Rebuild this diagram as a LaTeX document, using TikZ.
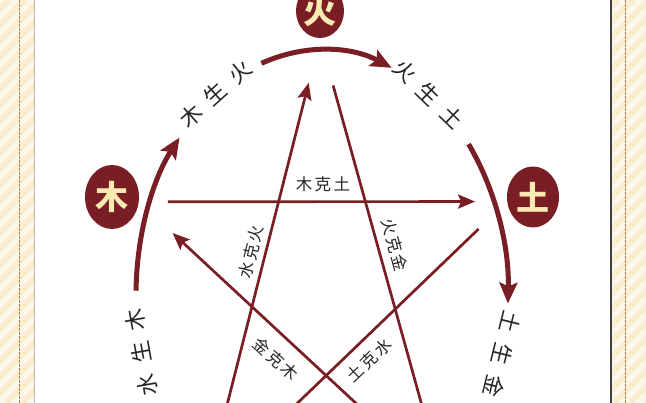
\documentclass[tikz,border=0pt]{standalone}
\usepackage{fontspec}
\setmainfont{Noto Sans CJK SC}
\usetikzlibrary{arrows.meta,shapes.geometric}
\definecolor{maroon}{RGB}{122,30,38}
\definecolor{pale}{RGB}{249,234,178}
\definecolor{ink}{RGB}{40,36,36}
\definecolor{cream}{RGB}{252,247,236}
\definecolor{stripe}{RGB}{250,237,204}
\definecolor{seam}{RGB}{170,128,78}
\newcommand\spaced[4]{#2\hspace{#1}#3\hspace{#1}#4}

\begin{document}
\begin{tikzpicture}[x=1pt, y=1pt,
        elem/.style={ellipse, fill=maroon, inner sep=0pt, text=pale,
            font=\fontsize{33}{33}\selectfont\bfseries},
        ke/.style={draw=maroon, line width=2.7pt, -{Stealth[length=17pt,width=14pt,inset=3pt]}},
        sheng/.style={draw=maroon, line width=5pt, -{Stealth[length=21pt,width=18pt,inset=4pt]}},
        kelabel/.style={text=ink, font=\fontsize{16.5}{16.5}\selectfont},
        shlabel/.style={text=ink, font=\fontsize{22}{22}\selectfont}]
    \useasboundingbox (0,0) rectangle (646,403);
    \clip (0,0) rectangle (646,403);

    % paper with striped margins
    \fill[cream] (0,0) rectangle (646,403);
    \begin{scope}
        \clip (0,0) rectangle (34,403) (611,0) rectangle (646,403);
        \foreach \s in {-410,-394,...,650} {
                \draw[stripe, line width=6pt] (\s,0) -- ++(403,403);
            }
    \end{scope}
    \fill[white] (34,0) rectangle (611,403);
    \draw[gray!55, line width=0.6pt] (34,0) -- (34,403);
    \draw[black!75, line width=1.2pt] (611,0) -- (611,403);
    \foreach \x in {19,625} {
            \draw[seam, line width=1pt, dash pattern=on 2.5pt off 1.5pt] (\x,0) -- (\x,403);
        }

    % elements
    \node[elem, minimum width=48pt, minimum height=54pt] (huo) at (320,392) {火};
    \node[elem, minimum width=54pt, minimum height=64pt] (mu) at (112,206) {木};
    \node[elem, minimum width=52pt, minimum height=61pt] (tu) at (533,206) {土};
    \coordinate (shui) at (205,-89);
    \coordinate (jin) at (444,-82);
    \coordinate (ring) at (322,108);

    % generating cycle
    \draw[sheng] (ring) ++(179:186 and 245) arc[start angle=179, end angle=140, x radius=186, y radius=245];
    \draw[sheng] (ring) ++(109:186 and 245) arc[start angle=109, end angle=68, x radius=186, y radius=245];
    \draw[sheng] (ring) ++(38:186 and 245) arc[start angle=38, end angle=-2, x radius=186, y radius=245];
    \path (ring) ++(193.5:186 and 245) node[shlabel, rotate=100] (s-sm) {\spaced{.5em}{水}{生}{木}};
    \path (ring) ++(125:186 and 245) node[shlabel, rotate=42] (s-mh) {\spaced{.5em}{木}{生}{火}};
    \path (ring) ++(55:186 and 245) node[shlabel, rotate=-44] (s-ht) {\spaced{.5em}{火}{生}{土}};
    \path (ring) ++(-14:186 and 245) node[shlabel, rotate=-104] (s-tj) {\spaced{.5em}{土}{生}{金}};

    % overcoming star
    \draw[ke, shorten <=29pt, shorten >=32pt] (mu.-10) -- (tu.190);
    \draw[ke, shorten >=46pt] (shui) -- (huo.south);
    \draw[ke, shorten <=49pt] (huo.south) -- (jin);
    \draw[ke, shorten >=46pt] (jin) -- (mu.-10);
    \draw[ke, shorten <=39.5pt] (tu.190) -- (shui);
    \node[kelabel] (k-mt) at (323,219) {\spaced{.15em}{木}{克}{土}};
    \node[kelabel, rotate=76] (k-sh) at (251,151) {\spaced{.15em}{水}{克}{火}};
    \node[kelabel, rotate=-75] (k-hj) at (395,158) {\spaced{.15em}{火}{克}{金}};
    \node[kelabel, rotate=-42] (k-jm) at (276,44) {\spaced{.15em}{金}{克}{木}};
    \node[kelabel, rotate=44] (k-ts) at (369,43) {\spaced{.15em}{土}{克}{水}};
\end{tikzpicture}
\end{document}
